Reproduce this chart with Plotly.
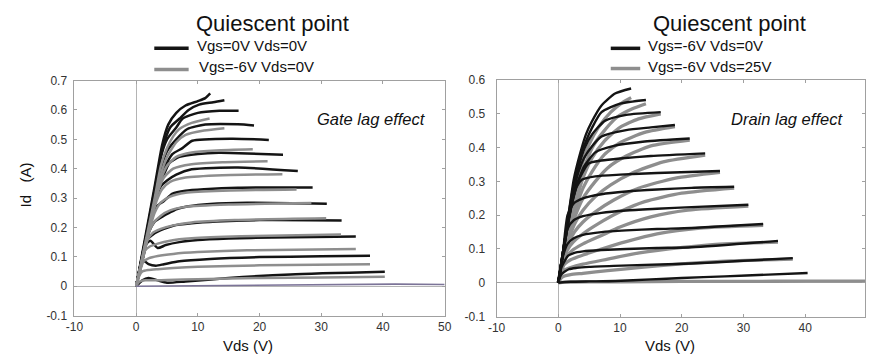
import plotly.graph_objects as go

# ---------------- data ----------------
x_ticks = [-10, 0, 10, 20, 30, 40, 50]
x_tick_labels = ["-10", "0", "10", "20", "30", "40", "50"]
left_y_ticks = [-0.1, 0, 0.1, 0.2, 0.3, 0.4, 0.5, 0.6, 0.7]
left_y_labels = ["-0.1", "0", "0.1", "0.2", "0.3", "0.4", "0.5", "0.6", "0.7"]
right_y_ticks = [-0.1, 0, 0.1, 0.2, 0.3, 0.4, 0.5, 0.6]
right_y_labels = ["-0.1", "0", "0.1", "0.2", "0.3", "0.4", "0.5", "0.6"]

# Left panel, black: quiescent Vgs=0V Vds=0V
left_black_x = [
    [0, 1.5, 3, 4.2, 5.2, 6.5, 8, 10, 11.2, 12.0],
    [0, 1.5, 3, 4.3, 5.5, 7, 8.5, 10.2, 12.5, 14.3],
    [0, 1.5, 3, 4, 5, 6.5, 7.5, 10, 13.5, 16.6],
    [0, 1.5, 3, 4, 5, 6.5, 8.3, 11.2, 16.5, 19.1],
    [0, 1.5, 3, 3.6, 4.5, 5.9, 7.5, 9.1, 15.5, 21.5],
    [0, 1.5, 2.8, 3.5, 4.5, 5.4, 7, 10, 13.4, 18, 23.8],
    [0, 1.3, 2.5, 3.2, 4, 5, 6.5, 9, 16.5, 26.2],
    [0, 1.2, 2.3, 3.2, 4.5, 5.9, 8, 11, 16.5, 28.6],
    [0, 1, 2, 3, 4.5, 5.4, 6.5, 8.5, 12, 18, 30.9],
    [0, 0.8, 1.7, 3, 4.5, 6, 9, 13, 20, 33.3],
    [0, 0.7, 1.5, 2.3, 3.5, 4.8, 7, 10, 15, 22, 35.6],
    [0, 0.5, 1, 2, 3.2, 4.5, 7, 12, 20, 30, 37.9],
    [0, 1, 2, 3.5, 5, 8, 15, 25, 40.3],
]
left_black_y = [
    [0, 0.17, 0.34, 0.48, 0.55, 0.59, 0.615, 0.63, 0.64, 0.656],
    [0, 0.16, 0.33, 0.47, 0.54, 0.57, 0.60, 0.618, 0.626, 0.633],
    [0, 0.16, 0.32, 0.44, 0.50, 0.54, 0.57, 0.59, 0.597, 0.597],
    [0, 0.15, 0.30, 0.40, 0.46, 0.50, 0.535, 0.55, 0.551, 0.547],
    [0, 0.14, 0.28, 0.34, 0.40, 0.45, 0.47, 0.495, 0.502, 0.498],
    [0, 0.13, 0.26, 0.32, 0.38, 0.42, 0.44, 0.45, 0.454, 0.452, 0.447],
    [0, 0.12, 0.24, 0.30, 0.34, 0.36, 0.38, 0.398, 0.404, 0.392],
    [0, 0.11, 0.21, 0.27, 0.29, 0.315, 0.325, 0.33, 0.335, 0.336],
    [0, 0.09, 0.18, 0.22, 0.24, 0.25, 0.262, 0.272, 0.28, 0.284, 0.281],
    [0, 0.08, 0.155, 0.18, 0.195, 0.206, 0.214, 0.22, 0.225, 0.224],
    [0, 0.07, 0.14, 0.155, 0.13, 0.14, 0.15, 0.157, 0.162, 0.166, 0.169],
    [0, 0.05, 0.09, 0.075, 0.07, 0.075, 0.085, 0.093, 0.099, 0.102, 0.104],
    [0, 0.02, 0.028, 0.02, 0.012, 0.016, 0.028, 0.04, 0.049],
]

# Left panel, grey: quiescent Vgs=-6V Vds=0V
left_grey_x = [
    [0, 1.5, 3, 4, 5, 6, 7, 9, 11.9],
    [0, 1.5, 3, 4, 5, 6.5, 8, 11, 14.3],
    [0, 1.5, 3, 3.8, 5, 6.5, 9, 13, 18.9],
    [0, 1.4, 2.8, 3.5, 4.5, 6, 9, 14, 21.3],
    [0, 1.3, 2.6, 3.3, 4.2, 5.5, 8, 14, 23.7],
    [0, 1.2, 2.4, 3, 4, 5.5, 8, 14, 26.0],
    [0, 1, 2, 2.8, 4, 5.5, 8, 15, 28.4],
    [0, 0.9, 1.8, 2.6, 4, 6, 9, 16, 30.8],
    [0, 0.7, 1.4, 2.2, 3.5, 5.5, 9, 17, 33.2],
    [0, 0.6, 1.2, 2, 3.5, 6, 10, 18, 35.6],
    [0, 0.5, 1, 2, 3.5, 6, 10, 20, 37.9],
    [0, 0.5, 1.5, 3, 5, 10, 20, 30, 40.3],
]
left_grey_y = [
    [0, 0.15, 0.30, 0.41, 0.47, 0.51, 0.535, 0.556, 0.571],
    [0, 0.14, 0.28, 0.38, 0.44, 0.49, 0.515, 0.53, 0.538],
    [0, 0.14, 0.28, 0.35, 0.41, 0.44, 0.455, 0.462, 0.466],
    [0, 0.13, 0.26, 0.32, 0.37, 0.40, 0.415, 0.422, 0.425],
    [0, 0.12, 0.24, 0.29, 0.33, 0.355, 0.37, 0.378, 0.381],
    [0, 0.11, 0.21, 0.25, 0.285, 0.305, 0.318, 0.325, 0.329],
    [0, 0.09, 0.18, 0.215, 0.24, 0.258, 0.27, 0.278, 0.283],
    [0, 0.08, 0.155, 0.18, 0.195, 0.207, 0.217, 0.225, 0.231],
    [0, 0.06, 0.12, 0.135, 0.145, 0.155, 0.163, 0.17, 0.176],
    [0, 0.05, 0.085, 0.095, 0.103, 0.11, 0.116, 0.122, 0.127],
    [0, 0.035, 0.05, 0.055, 0.058, 0.062, 0.066, 0.071, 0.075],
    [0, 0.015, 0.02, 0.02, 0.021, 0.024, 0.028, 0.03, 0.032],
]
left_pinch_x = [0, 5, 15, 25, 35, 42, 50]
left_pinch_y = [0, 0.001, 0.002, 0.004, 0.006, 0.007, 0.006]

# Right panel, black: quiescent Vgs=-6V Vds=0V
right_black_x = [
    [0, 1, 2, 2.5, 3.5, 4.5, 5.4, 7, 9.2, 11.8],
    [0, 1, 2, 2.6, 3.5, 4.5, 5.5, 7, 10, 14.2],
    [0, 1, 2, 2.6, 3.4, 4.3, 5.5, 7.6, 11, 16.6],
    [0, 1, 2, 2.6, 3.3, 4.2, 5.5, 7, 11, 15, 18.9],
    [0, 1, 1.8, 2.5, 3.2, 4.2, 6, 9, 14, 21.3],
    [0, 0.9, 1.7, 2.4, 3.2, 4.9, 7, 10, 15, 23.8],
    [0, 0.8, 1.6, 2.3, 3, 3.8, 6, 10, 16, 26.2],
    [0, 0.7, 1.5, 2.5, 4, 7, 11, 16, 21.6, 28.5],
    [0, 0.6, 1.5, 2.5, 4, 7, 11, 16, 21.6, 30.8],
    [0, 0.5, 1.5, 2.5, 4, 7, 11, 16, 21.6, 33.2],
    [0, 0.5, 1.6, 2.5, 4, 7, 11, 16, 21.6, 35.6],
    [0, 0.5, 1.7, 3, 5, 9, 14, 21.6, 30, 38.0],
    [0, 2, 5, 9.2, 15, 20, 27, 34, 40.4],
]
right_black_y = [
    [0, 0.12, 0.245, 0.305, 0.38, 0.44, 0.476, 0.525, 0.56, 0.575],
    [0, 0.12, 0.24, 0.30, 0.37, 0.42, 0.46, 0.505, 0.53, 0.541],
    [0, 0.12, 0.23, 0.29, 0.35, 0.40, 0.44, 0.48, 0.497, 0.505],
    [0, 0.12, 0.22, 0.28, 0.33, 0.37, 0.405, 0.433, 0.452, 0.46, 0.467],
    [0, 0.11, 0.20, 0.26, 0.30, 0.345, 0.386, 0.405, 0.418, 0.427],
    [0, 0.10, 0.19, 0.25, 0.30, 0.353, 0.362, 0.368, 0.375, 0.383],
    [0, 0.09, 0.175, 0.24, 0.285, 0.305, 0.315, 0.32, 0.325, 0.331],
    [0, 0.08, 0.20, 0.235, 0.25, 0.262, 0.27, 0.276, 0.281, 0.284],
    [0, 0.07, 0.16, 0.185, 0.197, 0.207, 0.214, 0.219, 0.224, 0.231],
    [0, 0.06, 0.115, 0.132, 0.142, 0.15, 0.155, 0.159, 0.162, 0.174],
    [0, 0.045, 0.08, 0.088, 0.093, 0.097, 0.1, 0.103, 0.105, 0.124],
    [0, 0.025, 0.04, 0.044, 0.047, 0.05, 0.053, 0.057, 0.065, 0.073],
    [0, 0.003, 0.004, 0.005, 0.01, 0.014, 0.019, 0.024, 0.029],
]

# Right panel, grey: quiescent Vgs=-6V Vds=25V
right_grey_x = [
    [0, 1, 2, 3, 4, 5, 6.5, 8.5, 10.5, 11.8],
    [0, 1, 2, 3, 4, 5.5, 7, 9.5, 12, 14.2],
    [0, 1, 2, 3, 4, 5.5, 7.5, 10, 13, 16.6],
    [0, 1, 2, 3, 4, 5.5, 7.5, 10, 14, 18.9],
    [0, 1, 2, 3, 4, 6, 8, 11, 15, 21.3],
    [0, 0.9, 1.8, 2.8, 4, 6, 8.5, 12, 17, 23.8],
    [0, 0.8, 1.6, 2.6, 4, 6, 9, 13, 19, 26.2],
    [0, 0.7, 1.4, 2.4, 4, 6.5, 10, 14, 20, 28.5],
    [0, 0.6, 1.2, 2.2, 4, 7, 10, 15, 21, 30.8],
    [0, 0.5, 1, 2, 4, 7, 11, 16, 23, 33.2],
    [0, 0.5, 1, 2, 4, 8, 12, 18, 25, 35.6],
    [0, 0.5, 1, 2, 4, 8, 13, 20, 28, 38.0],
    [0, 1, 5, 10, 20, 30, 40, 50],
]
right_grey_y = [
    [0, 0.11, 0.21, 0.29, 0.36, 0.41, 0.46, 0.505, 0.535, 0.548],
    [0, 0.10, 0.19, 0.27, 0.33, 0.40, 0.44, 0.49, 0.515, 0.53],
    [0, 0.10, 0.18, 0.25, 0.31, 0.37, 0.42, 0.46, 0.485, 0.50],
    [0, 0.09, 0.17, 0.23, 0.28, 0.33, 0.38, 0.415, 0.445, 0.462],
    [0, 0.085, 0.155, 0.21, 0.25, 0.30, 0.34, 0.375, 0.405, 0.422],
    [0, 0.075, 0.135, 0.18, 0.215, 0.255, 0.29, 0.325, 0.358, 0.378],
    [0, 0.065, 0.115, 0.15, 0.18, 0.21, 0.245, 0.28, 0.31, 0.327],
    [0, 0.055, 0.095, 0.12, 0.145, 0.175, 0.21, 0.24, 0.265, 0.28],
    [0, 0.045, 0.075, 0.095, 0.115, 0.14, 0.165, 0.195, 0.215, 0.227],
    [0, 0.035, 0.055, 0.068, 0.082, 0.10, 0.122, 0.145, 0.162, 0.17],
    [0, 0.025, 0.038, 0.045, 0.055, 0.07, 0.085, 0.10, 0.113, 0.12],
    [0, 0.015, 0.02, 0.024, 0.028, 0.036, 0.045, 0.056, 0.065, 0.07],
    [0, 0.002, 0.003, 0.003, 0.004, 0.004, 0.005, 0.005],
]

# ---------------- figure ----------------
W, H = 872, 362
BLACK = "#141414"
GREY = "#8e8e8e"
FONT = "Liberation Sans, Arial, sans-serif"

fig = go.Figure()


def add_curves(xs, ys, color, width, xa, ya):
    for cx, cy in zip(xs, ys):
        fig.add_trace(go.Scatter(
            x=cx, y=cy, mode="lines", xaxis=xa, yaxis=ya,
            line=dict(color=color, width=width, shape="spline", smoothing=0.6),
            showlegend=False, hoverinfo="skip"))


# left panel: black first, grey on top
add_curves(left_black_x, left_black_y, BLACK, 2.5, "x", "y")
add_curves(left_grey_x, left_grey_y, GREY, 2.5, "x", "y")
fig.add_trace(go.Scatter(x=left_pinch_x, y=left_pinch_y, mode="lines",
                         line=dict(color="#7c7498", width=1.6),
                         showlegend=False, hoverinfo="skip"))
# right panel: grey first (thicker), black on top
add_curves(right_grey_x, right_grey_y, GREY, 3.3, "x2", "y2")
add_curves(right_black_x, right_black_y, BLACK, 2.4, "x2", "y2")

axis_common = dict(
    showline=True, linecolor="#a0a0a0", linewidth=1, mirror="ticks",
    ticks="inside", ticklen=3, tickcolor="#a0a0a0",
    showgrid=False, zeroline=True, zerolinecolor="#b4b4b4", zerolinewidth=1,
    tickfont=dict(family=FONT, size=12, color="#333333"),
)

fig.update_layout(
    width=W, height=H, margin=dict(l=0, r=0, t=0, b=0),
    paper_bgcolor="white", plot_bgcolor="white",
    xaxis=dict(domain=[66.7 / W, 443.8 / W], range=[-10, 50],
               tickvals=x_ticks, ticktext=x_tick_labels, anchor="y", **axis_common),
    yaxis=dict(domain=[1 - 321 / H, 1 - 76.5 / H], range=[-0.1, 0.7],
               tickvals=left_y_ticks, ticktext=left_y_labels, anchor="x",
               ticklabelstandoff=4, **axis_common),
    xaxis2=dict(domain=[496.7 / W, 1.0], range=[-10, 49.7],
                tickvals=x_ticks, ticktext=x_tick_labels, anchor="y2", **axis_common),
    yaxis2=dict(domain=[1 - 322 / H, 1 - 76 / H], range=[-0.1, 0.6],
                tickvals=right_y_ticks, ticktext=right_y_labels, anchor="x2",
                ticklabelstandoff=8, **axis_common),
)


def px(x):
    return x / W


def py(y):
    return 1 - y / H


annotations = []


def text(x, y, s, size, italic=False, xanchor="center", angle=0):
    annotations.append(dict(
        x=px(x), y=py(y), xref="paper", yref="paper", text=s, showarrow=False,
        xanchor=xanchor, yanchor="middle", textangle=angle, borderpad=0,
        font=dict(family=FONT, size=size, color="#111111",
                  style="italic" if italic else "normal")))


# titles / legends
text(268, 17, "Quiescent point", 22)
text(190, 40, "Vgs=0V Vds=0V", 15, xanchor="left")
text(193, 62, "Vgs=-6V Vds=0V", 15, xanchor="left")
text(734, 17, "Quiescent point", 22)
text(650, 40, "Vgs=-6V Vds=0V", 15, xanchor="left")
text(650, 62, "Vgs=-6V Vds=25V", 15, xanchor="left")

# panel annotations
text(369, 117, "Gate lag effect", 16.5, italic=True)
text(793, 117, "Drain lag effect", 16.5, italic=True)

# axis titles
text(243, 352, "Vds (V)", 15)
text(673, 352, "Vds (V)", 15)
text(17, 185, "Id&nbsp;&nbsp;&nbsp;(A)", 15, angle=-90)

fig.update_layout(annotations=annotations)

# legend swatches
shapes = []
for (x0, x1, y, c) in [(148, 183, 43, BLACK), (148, 183, 65, GREY),
                       (613, 643, 43, BLACK), (613, 643, 64, GREY)]:
    shapes.append(dict(type="line", xref="paper", yref="paper",
                       x0=px(x0), x1=px(x1), y0=py(y), y1=py(y),
                       line=dict(color=c, width=3.5)))
fig.update_layout(shapes=shapes)

fig.write_html("out.html")
